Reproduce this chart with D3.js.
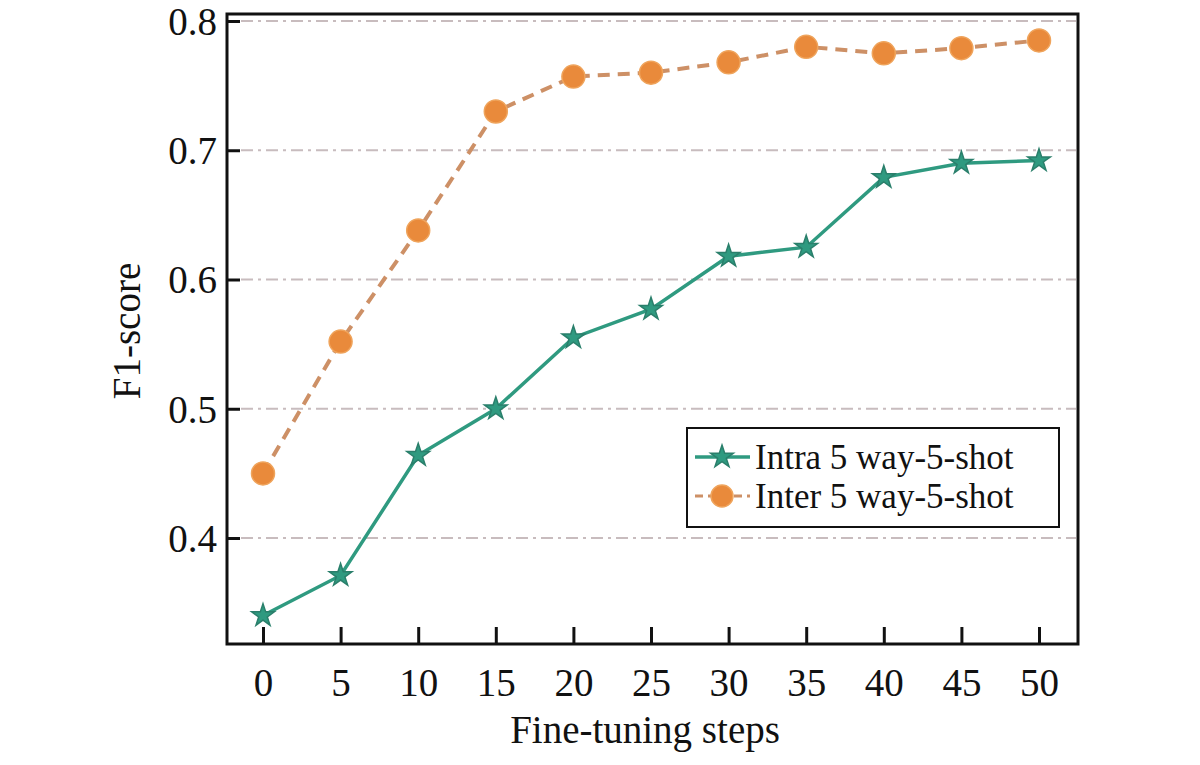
<!DOCTYPE html>
<html>
<head>
<meta charset="utf-8">
<script src="https://cdn.jsdelivr.net/npm/d3@7"></script>
<style>
  body { margin: 0; background: #fff; }
  text { font-family: "Liberation Serif", "Times New Roman", serif; fill: #111; }
</style>
</head>
<body>
<script>
var width = 1200,
    height = 765;

// data
var steps = [0, 5, 10, 15, 20, 25, 30, 35, 40, 45, 50];
var intra = [0.340, 0.371, 0.464, 0.500, 0.555, 0.577, 0.618, 0.625, 0.679, 0.690, 0.692];
var inter = [0.450, 0.552, 0.638, 0.730, 0.757, 0.760, 0.768, 0.780, 0.775, 0.779, 0.785];
var yTicks = [0.4, 0.5, 0.6, 0.7, 0.8];
var seriesNames = ["Intra 5 way-5-shot", "Inter 5 way-5-shot"];

var frame = {left: 227, right: 1078, top: 14, bottom: 644};

var x = d3.scaleLinear().domain([0, 50]).range([263, 1039]);
var y = d3.scaleLinear().domain([0.4, 0.8]).range([538, 21]);

var svg = d3.select("body").append("svg")
    .attr("width", width)
    .attr("height", height);

// grid lines, dash-dot
svg.append("g").selectAll("line")
    .data(yTicks)
    .enter().append("line")
    .attr("x1", frame.left + 14)
    .attr("x2", frame.right - 2)
    .attr("y1", function(d) { return y(d); })
    .attr("y2", function(d) { return y(d); })
    .attr("stroke", "#c8bcbe")
    .attr("stroke-width", 2)
    .attr("stroke-dasharray", "12,5,3,5");

// axes with inward ticks
var xAxis = svg.append("g")
    .attr("transform", "translate(0," + frame.bottom + ")")
    .call(d3.axisBottom(x).tickValues(steps).tickSizeInner(-17).tickSizeOuter(0).tickPadding(24));

var yAxis = svg.append("g")
    .attr("transform", "translate(" + frame.left + ",0)")
    .call(d3.axisLeft(y).tickValues(yTicks).tickFormat(d3.format(".1f"))
        .tickSizeInner(-13).tickSizeOuter(0).tickPadding(10));

[xAxis, yAxis].forEach(function(a) {
    a.select(".domain").remove();
    a.selectAll(".tick line").attr("stroke", "#111").attr("stroke-width", 3);
    a.selectAll(".tick text").style("font-size", "39px").attr("fill", "#111");
});
xAxis.selectAll(".tick text").attr("dy", "0.71em");
yAxis.selectAll(".tick text").attr("dy", "0.34em");

// frame
svg.append("rect")
    .attr("x", frame.left)
    .attr("y", frame.top)
    .attr("width", frame.right - frame.left)
    .attr("height", frame.bottom - frame.top)
    .attr("fill", "none")
    .attr("stroke", "#111")
    .attr("stroke-width", 3);

// axis titles
svg.append("text")
    .attr("x", 645)
    .attr("y", 743)
    .attr("text-anchor", "middle")
    .style("font-size", "39px")
    .text("Fine-tuning steps");

svg.append("text")
    .attr("transform", "translate(140,331) rotate(-90)")
    .attr("text-anchor", "middle")
    .style("font-size", "39px")
    .text("F1-score");

var line = d3.line()
    .x(function(d) { return x(d[0]); })
    .y(function(d) { return y(d[1]); });

var intraPts = d3.zip(steps, intra),
    interPts = d3.zip(steps, inter);

var green = "#2f9a80",
    orange = "#e98a3b";

svg.append("path")
    .datum(intraPts)
    .attr("fill", "none")
    .attr("stroke", green)
    .attr("stroke-width", 3.5)
    .attr("d", line);

var star = d3.symbol().type(d3.symbolStar).size(160);

svg.append("g").selectAll("path")
    .data(intraPts)
    .enter().append("path")
    .attr("transform", function(d) { return "translate(" + [x(d[0]), y(d[1])] + ")"; })
    .attr("d", star)
    .attr("fill", green)
    .attr("stroke", "#2a7f6b")
    .attr("stroke-width", 1.5);

svg.append("path")
    .datum(interPts)
    .attr("fill", "none")
    .attr("stroke", "#cd9066")
    .attr("stroke-width", 4)
    .attr("stroke-dasharray", "12,8")
    .attr("d", line);

svg.append("g").selectAll("circle")
    .data(interPts)
    .enter().append("circle")
    .attr("cx", function(d) { return x(d[0]); })
    .attr("cy", function(d) { return y(d[1]); })
    .attr("r", 11.5)
    .attr("fill", orange)
    .attr("stroke", "#efa45c")
    .attr("stroke-width", 1.5);

// legend
var legend = svg.append("g").attr("transform", "translate(687,428)");

legend.append("rect")
    .attr("width", 372)
    .attr("height", 99)
    .attr("fill", "#fff")
    .attr("stroke", "#111")
    .attr("stroke-width", 2);

var rows = legend.selectAll("g.row")
    .data(seriesNames)
    .enter().append("g")
    .attr("class", "row")
    .attr("transform", function(d, i) { return "translate(0," + (29 + i * 39) + ")"; });

rows.append("line")
    .attr("x1", 8)
    .attr("x2", 63)
    .attr("stroke", function(d, i) { return i ? "#cd9066" : green; })
    .attr("stroke-width", function(d, i) { return i ? 3 : 3.5; })
    .attr("stroke-dasharray", function(d, i) { return i ? "8,5" : null; });

rows.each(function(d, i) {
    var r = d3.select(this);
    if (i) {
        r.append("circle").attr("cx", 35).attr("r", 11)
            .attr("fill", orange).attr("stroke", "#efa45c").attr("stroke-width", 1.5);
    } else {
        r.append("path").attr("transform", "translate(35,0)").attr("d", star)
            .attr("fill", green).attr("stroke", "#2a7f6b").attr("stroke-width", 1.5);
    }
});

rows.append("text")
    .attr("x", 68)
    .attr("dy", "0.35em")
    .style("font-size", "35px")
    .text(function(d) { return d; });
</script>
</body>
</html>
